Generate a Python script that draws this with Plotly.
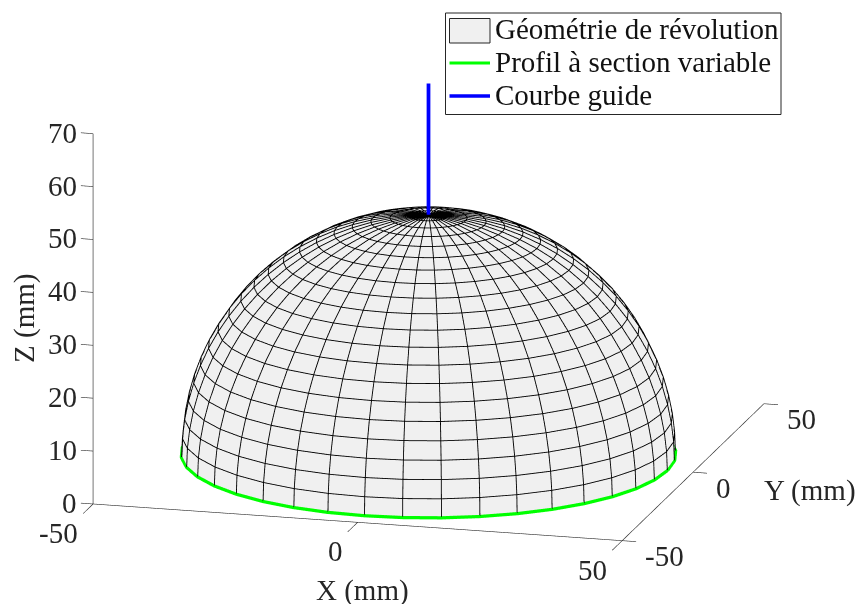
import numpy as np
import plotly.graph_objects as go

# Values
RADIUS_MM = 45
GUIDE_Z = [45, 70]
MERIDIANS_DEG = list(range(0, 361, 9))
PARALLELS_DEG = [4.5 * k for k in range(0, 21)]
X_TICKS = [-50, 0, 50]
Y_TICKS = [-50, 0, 50]
Z_TICKS = [0, 10, 20, 30, 40, 50, 60, 70]
X_LIM = [-50, 50]
Y_LIM = [-50, 50]
Z_LIM = [0, 70]
NAMES = ["Géométrie de révolution", "Profil à section variable", "Courbe guide"]

FONT = "Liberation Serif"
AX = "#262626"
LBL = "#262626"
SZ = 29
SURF = "#f0f0f0"
GREEN = "#00ff00"
BLUE = "#0000ff"

t = np.radians(MERIDIANS_DEG)
p = np.radians(PARALLELS_DEG)
T, P = np.meshgrid(t, p)
SX = RADIUS_MM * np.cos(P) * np.cos(T)
SY = RADIUS_MM * np.cos(P) * np.sin(T)
SZS = RADIUS_MM * np.sin(P)

# Mesh lines, lifted a hair above the surface so that depth testing keeps them visible
L = 1.003
mx, my, mz = [], [], []
for i in range(len(p)):
    mx += list(L * SX[i]) + [None]
    my += list(L * SY[i]) + [None]
    mz += list(L * SZS[i]) + [None]
for j in range(len(t)):
    mx += list(L * SX[:, j]) + [None]
    my += list(L * SY[:, j]) + [None]
    mz += list(L * SZS[:, j]) + [None]

# Axis lines and ticks
ax_x, ax_y, ax_z = [], [], []
def seg(a, b):
    ax_x.extend([a[0], b[0], None])
    ax_y.extend([a[1], b[1], None])
    ax_z.extend([a[2], b[2], None])
seg((X_LIM[0], Y_LIM[0], 0), (X_LIM[1], Y_LIM[0], 0))
seg((X_LIM[1], Y_LIM[0], 0), (X_LIM[1], Y_LIM[1], 0))
seg((X_LIM[0], Y_LIM[0], Z_LIM[0]), (X_LIM[0], Y_LIM[0], Z_LIM[1]))
for v in X_TICKS:
    seg((v, Y_LIM[0], 0), (v, Y_LIM[0] - 7, 0))
for v in Y_TICKS:
    seg((X_LIM[1], v, 0), (X_LIM[1] + 2.65, v, 0))
for v in Z_TICKS:
    seg((X_LIM[0], Y_LIM[0], v), (X_LIM[0] - 2.3, Y_LIM[0], v))

fig = go.Figure()
fig.add_trace(go.Surface(
    x=SX, y=SY, z=SZS, name=NAMES[0], showlegend=False, showscale=False,
    colorscale=[[0, SURF], [1, SURF]],
    lighting=dict(ambient=1, diffuse=0, specular=0, fresnel=0, roughness=1),
    hoverinfo="skip",
))
fig.add_trace(go.Scatter3d(x=mx, y=my, z=mz, mode="lines", showlegend=False,
                           line=dict(color="#000000", width=1.8), hoverinfo="skip"))
fig.add_trace(go.Scatter3d(x=ax_x, y=ax_y, z=ax_z, mode="lines", showlegend=False,
                           line=dict(color=AX, width=1.2), hoverinfo="skip"))
fig.add_trace(go.Scatter3d(
    x=list(SX[0] * 1.004), y=list(SY[0] * 1.004), z=list(SZS[0]), mode="lines", name=NAMES[1],
    showlegend=False, line=dict(color=GREEN, width=6.5), hoverinfo="skip"))
fig.add_trace(go.Scatter3d(
    x=[0, 0], y=[0, 0], z=GUIDE_Z, mode="lines", name=NAMES[2],
    showlegend=False, line=dict(color=BLUE, width=7.5), hoverinfo="skip"))

ann = []
def label(x, y, z, text, xanchor="center", xshift=0, yshift=0, angle=0):
    ann.append(dict(x=x, y=y, z=z, text=text, showarrow=False, xanchor=xanchor, yanchor="middle",
                    xshift=xshift, yshift=yshift, textangle=angle,
                    font=dict(family=FONT, size=SZ, color=LBL)))
for v in Z_TICKS:
    label(X_LIM[0], Y_LIM[0], v, str(v), "right", -14, 1)
for v in X_TICKS:
    label(v, Y_LIM[0], 0, str(v), "right", -13, -29)
for v in Y_TICKS:
    label(X_LIM[1], v, 0, str(v), "left", 21, -15.5)
label(0, Y_LIM[0], 0, "X (mm)", "center", 4.5, -68)
label(X_LIM[1], 0, 0, "Y (mm)", "center", 117, -18)
label(X_LIM[0], Y_LIM[0], 35, "Z (mm)", "center", -68, 0, -90)

# Camera: azimuth and elevation 15 degrees, equal data scales
a, e = np.radians(15), np.radians(15)
S = 1.451
k = 2.0
c = -0.1142
eye = dict(x=k * np.sin(a) * np.cos(e), y=-k * np.cos(a) * np.cos(e), z=c + k * np.sin(e))
hidden = dict(visible=False, showgrid=False, zeroline=False, showbackground=False, showspikes=False)

# Legend box, swatches and labels
W, H = 857, 604
def px(v): return v / W
def py(v): return 1 - v / H
shapes = [
    dict(type="rect", xref="paper", yref="paper", x0=px(445.5), x1=px(781), y0=py(114.5), y1=py(13),
         line=dict(color=AX, width=1), fillcolor="white", layer="above"),
    dict(type="rect", xref="paper", yref="paper", x0=px(449.5), x1=px(490), y0=py(43), y1=py(18.5),
         line=dict(color=AX, width=1), fillcolor=SURF, layer="above"),
    dict(type="line", xref="paper", yref="paper", x0=px(449.5), x1=px(490), y0=py(63), y1=py(63),
         line=dict(color=GREEN, width=3), layer="above"),
    dict(type="line", xref="paper", yref="paper", x0=px(449.5), x1=px(490), y0=py(96), y1=py(96),
         line=dict(color=BLUE, width=3.5), layer="above"),
]
paper_ann = [
    dict(xref="paper", yref="paper", x=px(493), y=py(yy), text=name, showarrow=False,
         xanchor="left", yanchor="middle", xshift=0,
         font=dict(family=FONT, size=SZ, color="#111111"))
    for name, yy in zip(NAMES, [29, 62, 95])
]

fig.update_layout(
    width=W, height=H, margin=dict(l=0, r=0, t=0, b=0),
    paper_bgcolor="white", showlegend=False,
    font=dict(family=FONT, color="#000000"),
    shapes=shapes, annotations=paper_ann,
    scene=dict(
        domain=dict(x=[0, 1], y=[0, 1]),
        xaxis=dict(range=[-60, 60], **hidden),
        yaxis=dict(range=[-60, 60], **hidden),
        zaxis=dict(range=[-5, 75], **hidden),
        aspectmode="manual",
        aspectratio=dict(x=1.5 * S, y=1.5 * S, z=1.0 * S),
        camera=dict(eye=eye, up=dict(x=0, y=0, z=1), center=dict(x=0, y=0, z=c),
                    projection=dict(type="orthographic")),
        annotations=ann,
    ),
)
fig.write_html("out.html", config=dict(displayModeBar=False),
               post_script="document.body.style.margin='0';")
